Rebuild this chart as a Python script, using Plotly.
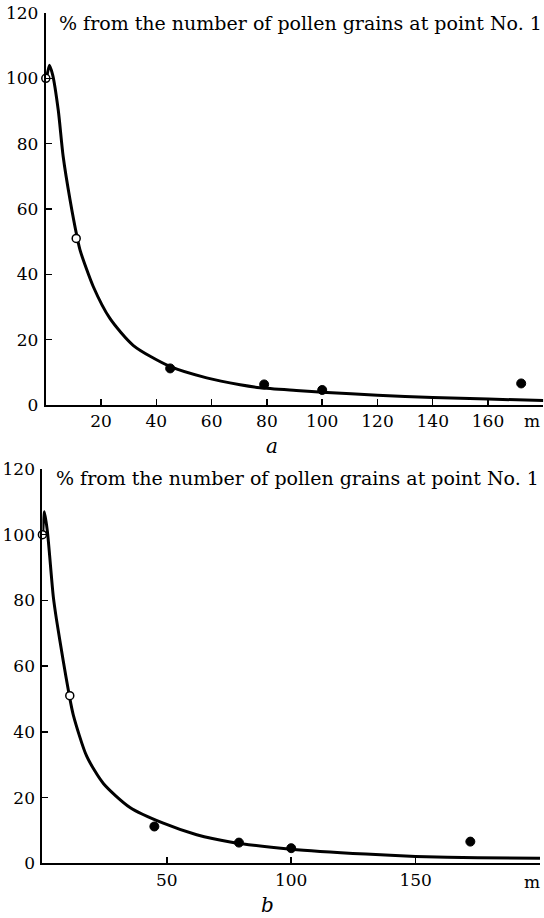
import plotly.graph_objects as go

W, H = 544, 918

def px(sx):
    return sx / W

def py(sy):
    return 1 - sy / H

# measured data (same for both panels)
dist_m = [0, 11, 45, 79, 100, 172]
pct = [100, 51, 11.2, 6.3, 4.6, 6.6]
open_idx = [0, 1]
filled_idx = [2, 3, 4, 5]

# fitted curves
curve_a_x = [0.3, 1.3, 2.5, 4.5, 6.3, 8.8, 11.3, 12.4, 17.2, 23.2, 31.7, 44.9, 58.2, 70.3, 77.5, 92, 100, 120, 140, 160, 180]
curve_a_y = [100, 104, 101, 90.3, 76, 62.7, 51.5, 47.4, 36.2, 26.5, 18.2, 11.8, 8.3, 6.2, 5.3, 4.4, 3.9, 3.0, 2.3, 1.8, 1.4]
curve_b_x = [0.1, 0.8, 2.0, 4.4, 5.7, 8.4, 10.7, 12.4, 17.8, 24.5, 35.2, 48.6, 62, 75.5, 100, 130, 150, 175, 200]
curve_b_y = [100, 107, 101, 81, 74, 61.5, 51.5, 45.2, 32.6, 24.3, 17.0, 12.2, 8.7, 6.5, 4.3, 2.8, 2.1, 1.7, 1.5]

y_ticks = [0, 20, 40, 60, 80, 100, 120]
x_ticks_a = [20, 40, 60, 80, 100, 120, 140, 160]
x_ticks_b = [50, 100, 150]

title_txt = "% from the number of pollen grains at point No. 1"
panel_labels = ["a", "b"]

FONT = "DejaVu Serif, serif"

fig = go.Figure()

def add_panel(xa, ya, cx, cy):
    fig.add_trace(go.Scatter(x=cx, y=cy, mode="lines", line=dict(color="black", width=3, shape="spline", smoothing=0.7),
                             xaxis=xa, yaxis=ya, showlegend=False, hoverinfo="skip", cliponaxis=False))
    fig.add_trace(go.Scatter(x=[dist_m[i] for i in filled_idx], y=[pct[i] for i in filled_idx], mode="markers",
                             marker=dict(color="black", size=9, line=dict(color="black", width=1)),
                             xaxis=xa, yaxis=ya, showlegend=False, cliponaxis=False))
    fig.add_trace(go.Scatter(x=[dist_m[i] for i in open_idx], y=[pct[i] for i in open_idx], mode="markers",
                             marker=dict(color="white", size=8, line=dict(color="black", width=1.5)),
                             xaxis=xa, yaxis=ya, showlegend=False, cliponaxis=False))

add_panel("x", "y", curve_a_x, curve_a_y)
add_panel("x2", "y2", curve_b_x, curve_b_y)

axis_common = dict(showgrid=False, zeroline=False, showline=True, linecolor="black", linewidth=2,
                   ticks="inside", ticklen=6, tickwidth=1.5, tickcolor="black", automargin=False,
                   tickfont=dict(family=FONT, size=17, color="black"))

fig.update_layout(
    template="none",
    width=W, height=H, margin=dict(l=0, r=0, t=0, b=0, pad=0),
    paper_bgcolor="white", plot_bgcolor="white", hovermode=False,
    xaxis=dict(domain=[px(45.8), px(543.3)], range=[0, 180], tickvals=x_ticks_a, ticktext=[str(v) for v in x_ticks_a],
               anchor="y", **axis_common),
    yaxis=dict(domain=[py(405), py(13)], range=[0, 120], tickvals=y_ticks, ticktext=[str(v) for v in y_ticks],
               anchor="x", ticklabelstandoff=2, **axis_common),
    xaxis2=dict(domain=[px(42.4), px(540)], range=[0, 200], tickvals=x_ticks_b, ticktext=[str(v) for v in x_ticks_b],
                anchor="y2", **axis_common),
    yaxis2=dict(domain=[py(863.3), py(469)], range=[0, 120], tickvals=y_ticks, ticktext=[str(v) for v in y_ticks],
                anchor="x2", ticklabelstandoff=2, **axis_common),
)

ann = []
# titles
ann.append(dict(text=title_txt, x=px(57), y=py(23), xref="paper", yref="paper", xanchor="left", yanchor="middle",
                showarrow=False, font=dict(family=FONT, size=19, color="black")))
ann.append(dict(text=title_txt, x=px(54), y=py(478), xref="paper", yref="paper", xanchor="left", yanchor="middle",
                showarrow=False, font=dict(family=FONT, size=19, color="black")))
# unit labels
ann.append(dict(text="m", x=px(531.5), y=py(421), xref="paper", yref="paper", xanchor="center", yanchor="middle",
                showarrow=False, font=dict(family=FONT, size=17, color="black")))
ann.append(dict(text="m", x=px(532), y=py(882), xref="paper", yref="paper", xanchor="center", yanchor="middle",
                showarrow=False, font=dict(family=FONT, size=17, color="black")))
# panel letters
ann.append(dict(text="<i>" + panel_labels[0] + "</i>", x=px(272), y=py(446), xref="paper", yref="paper",
                xanchor="center", yanchor="middle", showarrow=False, font=dict(family=FONT, size=20, color="black")))
ann.append(dict(text="<i>" + panel_labels[1] + "</i>", x=px(267), y=py(905), xref="paper", yref="paper",
                xanchor="center", yanchor="middle", showarrow=False, font=dict(family=FONT, size=20, color="black")))
fig.update_layout(annotations=ann)

fig.write_html("out.html", config={"displayModeBar": False, "staticPlot": True},
               post_script="document.body.style.margin='0px';document.body.style.overflow='hidden';")
